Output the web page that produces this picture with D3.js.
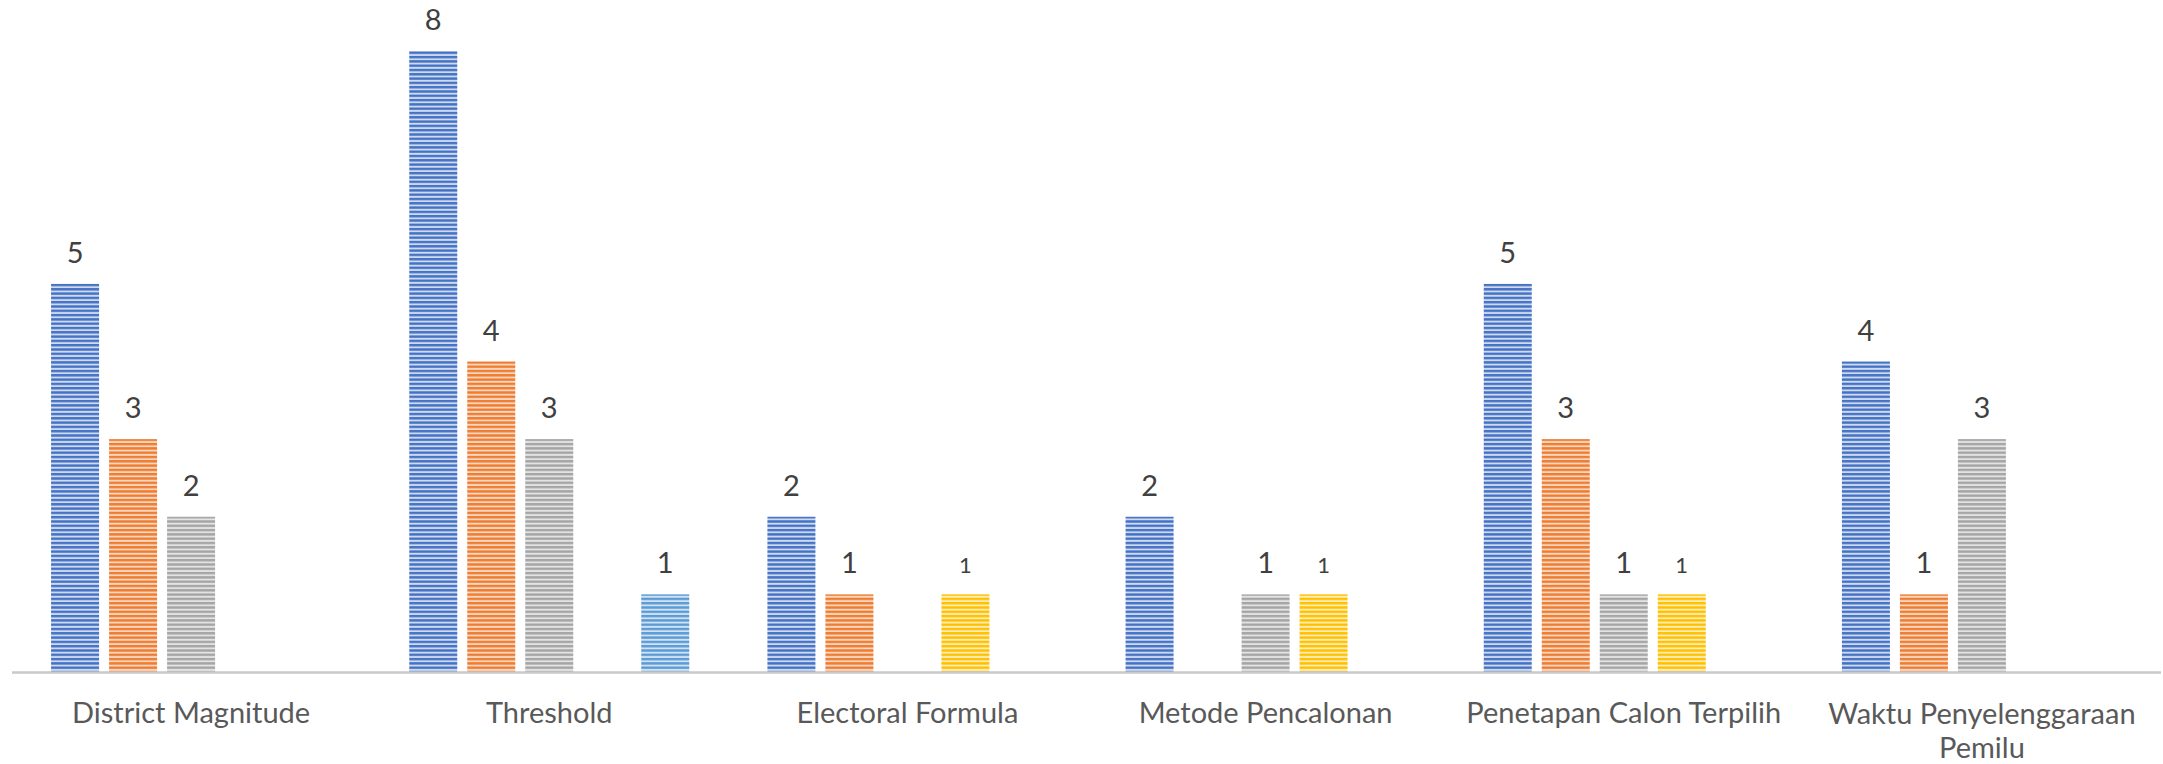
<!DOCTYPE html>
<html>
<head>
<meta charset="utf-8">
<script src="https://cdn.jsdelivr.net/npm/d3@7"></script>
<style>
  html, body { margin: 0; padding: 0; background: #fff; }
  svg { display: block; }
</style>
</head>
<body>
<svg id="chart" width="2163" height="764"></svg>
<script>
// Kategori dan nilai tiap seri (null = tidak ada batang)
var kategori = ["District Magnitude", "Threshold", "Electoral Formula", "Metode Pencalonan", "Penetapan Calon Terpilih", "Waktu Penyelenggaraan Pemilu"];
var seri1 = [5, 8, 2, 2, 5, 4];
var seri2 = [3, 4, 1, null, 3, 1];
var seri3 = [2, 3, null, 1, 1, 3];
var seri4 = [null, null, 1, 1, 1, null];
var seri5 = [null, 1, null, null, null, null];

var semuaSeri = [seri1, seri2, seri3, seri4, seri5];
var warna = ["#4472c4", "#ed7d31", "#a5a5a5", "#ffc000", "#5b9bd5"];
var warnaTerang = ["#cfdaf0", "#fad6c0", "#e3e3e3", "#ffedb8", "#d0e2f3"];

var baseY = 672;
var svg = d3.select("#chart");

// Pola garis horizontal untuk tiap seri
var defs = svg.append("defs");
warna.forEach(function (c, i) {
    var p = defs.append("pattern")
        .attr("id", "pola" + i)
        .attr("patternUnits", "userSpaceOnUse")
        .attr("width", 8)
        .attr("height", 4.3);
    p.append("rect").attr("width", 8).attr("height", 4.3).attr("fill", warnaTerang[i]);
    p.append("rect").attr("y", 0).attr("width", 8).attr("height", 2.4).attr("fill", c);
});

var x0 = d3.scaleBand()
    .domain(kategori)
    .range([12, 2161])
    .paddingInner(0)
    .paddingOuter(0);

var lebarGrup = 280;
var x1 = d3.scaleBand()
    .domain(d3.range(semuaSeri.length))
    .range([0, lebarGrup])
    .paddingInner(10 / 58)
    .paddingOuter(0);

var y = d3.scaleLinear()
    .domain([0, 8])
    .range([baseY, 51]);

// Data datar untuk batang
var datos = [];
kategori.forEach(function (k, ci) {
    semuaSeri.forEach(function (s, si) {
        if (s[ci] != null) datos.push({ kat: k, seri: si, nilai: s[ci] });
    });
});

function posX(d) {
    return x0(d.kat) + (x0.bandwidth() - lebarGrup) / 2 + x1(d.seri);
}

svg.append("g").selectAll("rect")
    .data(datos)
    .join("rect")
    .attr("x", posX)
    .attr("y", function (d) { return y(d.nilai); })
    .attr("width", x1.bandwidth())
    .attr("height", function (d) { return baseY - y(d.nilai); })
    .attr("fill", function (d) { return "url(#pola" + d.seri + ")"; });

// Label nilai
svg.append("g").selectAll("text")
    .data(datos)
    .join("text")
    .attr("x", function (d) { return posX(d) + x1.bandwidth() / 2; })
    .attr("y", function (d) { return y(d.nilai) - 21; })
    .attr("text-anchor", "middle")
    .style("font-family", "Lato, 'Liberation Sans', sans-serif")
    .style("font-size", function (d) { return d.seri === 3 ? "22px" : "29px"; })
    .style("fill", "#404040")
    .text(function (d) { return d.nilai; });

// Garis sumbu
svg.append("line")
    .attr("x1", 12).attr("x2", 2161)
    .attr("y1", baseY + 0.5).attr("y2", baseY + 0.5)
    .attr("stroke", "#c9c9c9")
    .attr("stroke-width", 2.5);

// Label kategori (dibungkus bila terlalu panjang)
var sumbu = svg.append("g").attr("transform", "translate(0," + baseY + ")")
    .call(d3.axisBottom(x0).tickSize(0).tickPadding(0));
sumbu.select(".domain").remove();
sumbu.selectAll("text")
    .style("font-family", "Lato, 'Liberation Sans', sans-serif")
    .style("font-size", "29px")
    .style("fill", "#595959")
    .attr("dy", null)
    .attr("y", 51)
    .each(function (d) {
        var t = d3.select(this);
        if (d === "Waktu Penyelenggaraan Pemilu") {
            t.text(null);
            t.append("tspan").attr("x", 0).attr("y", 52).text("Waktu Penyelenggaraan");
            t.append("tspan").attr("x", 0).attr("y", 86).text("Pemilu");
        }
    });
</script>
</body>
</html>
